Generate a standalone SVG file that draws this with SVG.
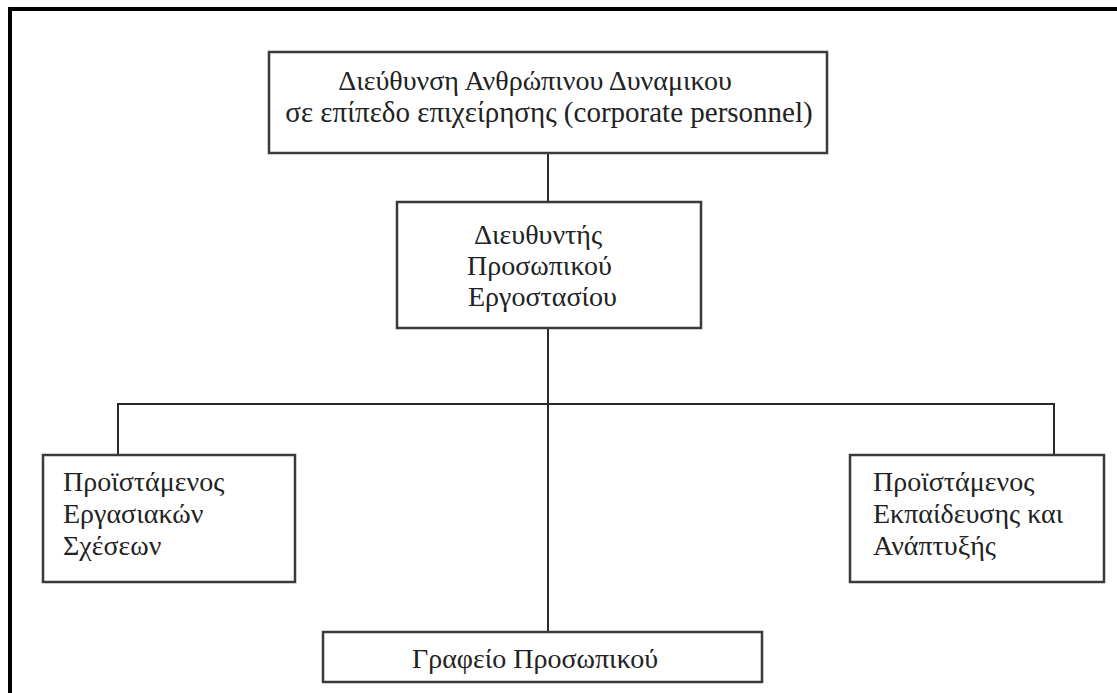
<svg xmlns="http://www.w3.org/2000/svg" width="1117" height="693" viewBox="0 0 1117 693">
<style>
.box{fill:#fff;stroke:#3a3a3a;stroke-width:2.5}
.ln{fill:none;stroke:#2a2a2a;stroke-width:2}
text{font-family:"Liberation Serif","DejaVu Serif",serif;font-size:28px;fill:#222}
</style>
<rect width="1117" height="693" fill="#fff"/>
<path d="M10,693 V9 H1117" fill="none" stroke="#000" stroke-width="4"/>
<g id="connectors">
<path class="ln" d="M548,153 V202"/>
<path class="ln" d="M548,328 V632"/>
<path class="ln" d="M118,455 V404 H1054 V455"/>
</g>
<g id="top">
<rect class="box" x="269" y="52" width="558" height="101"/>
<text x="535" y="90" text-anchor="middle">Διεύθυνση Ανθρώπινου Δυναμικου</text>
<text x="549" y="122" text-anchor="middle" style="font-size:29px">σε επίπεδο επιχείρησης (corporate personnel)</text>
</g>
<g id="director">
<rect class="box" x="397" y="202" width="304" height="126"/>
<text x="474" y="244">Διευθυντής</text>
<text x="467" y="275">Προσωπικού</text>
<text x="468" y="306">Εργοστασίου</text>
</g>
<g id="labor">
<rect class="box" x="43" y="455" width="252" height="127"/>
<text x="63" y="491">Προϊστάμενος</text>
<text x="63" y="523">Εργασιακών</text>
<text x="63" y="555">Σχέσεων</text>
</g>
<g id="training">
<rect class="box" x="850" y="455" width="254" height="127"/>
<text x="873" y="491">Προϊστάμενος</text>
<text x="873" y="523">Εκπαίδευσης και</text>
<text x="873" y="555">Ανάπτυξής</text>
</g>
<g id="office">
<rect class="box" x="323" y="632" width="439" height="50"/>
<text x="535" y="668" text-anchor="middle">Γραφείο Προσωπικού</text>
</g>
</svg>
